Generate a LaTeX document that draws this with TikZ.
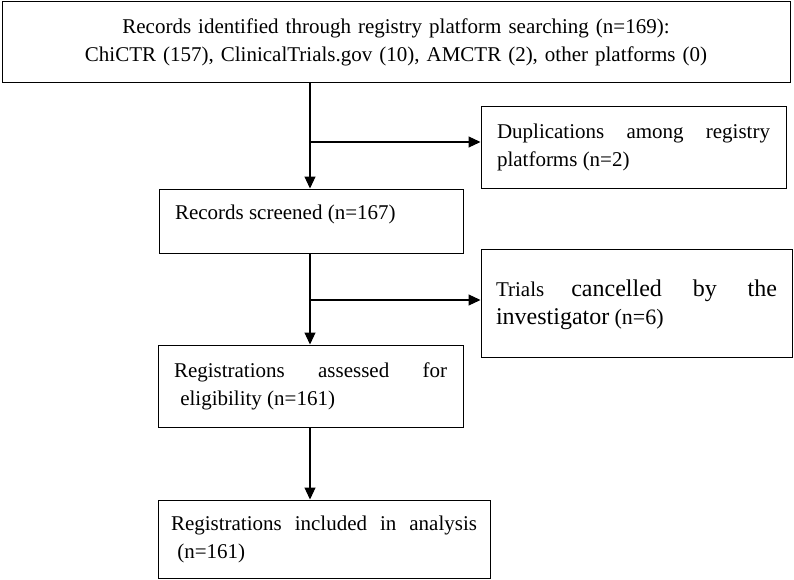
\documentclass[tikz,border=0pt]{standalone}
\usepackage{fontspec}
\setmainfont{Liberation Serif}
\usetikzlibrary{arrows.meta}
\tikzset{
  flowbox/.style={draw, line width=1pt, inner ysep=0pt, align=justify,
    font=\fontsize{21}{28}\selectfont},
  flowline/.style={line width=1.2pt, -{Triangle[length=12pt,width=11pt]}},
}
\newcommand{\bigwd}[1]{{\fontsize{24}{30}\selectfont #1}}
\begin{document}
\begin{tikzpicture}[x=1pt,y=-1pt]
\useasboundingbox (0,0) rectangle (794,580);
\coordinate (trunk) at (310,0);
% main flow
\node[flowbox, align=center, text width=780pt, inner xsep=4pt, minimum height=81pt] (ident) at (396,42.5)
  {Records identified through registry platform searching (n=169):\\ChiCTR (157), ClinicalTrials.gov (10), AMCTR (2), other platforms (0)};
\node[flowbox, text width=272pt, inner xsep=16pt, minimum height=64pt, text depth=17pt] (screen) at (311,221)
  {Records screened (n=167)};
\node[flowbox, text width=273pt, inner xsep=16pt, minimum height=82pt] (assess) at (310.5,386)
  {Registrations assessed for\linebreak\hspace*{0.3em}eligibility (n=161)};
\node[flowbox, text width=306pt, inner xsep=13pt, minimum height=78pt] (incl) at (324,539)
  {Registrations included in analysis\linebreak\hspace*{0.3em}(n=161)};
% excluded
\node[flowbox, text width=273pt, inner xsep=16pt, minimum height=82pt] (dup) at (633.5,147.5)
  {Duplications among registry\linebreak platforms (n=2)};
\node[flowbox, text width=281pt, inner xsep=15pt, minimum height=108pt, text depth=29pt] (cancel) at (636.5,303)
  {Trials \bigwd{cancelled by the}\linebreak\bigwd{investigator} {\fontsize{22}{30}\selectfont(n=6)}};
% arrows
\coordinate (b1) at (310,142);
\coordinate (b2) at (310,300);
\draw[flowline] (ident.south -| trunk) -- (screen.north -| trunk);
\draw[flowline] (b1) -- (b1 -| dup.west);
\draw[flowline] (screen.south -| trunk) -- (assess.north -| trunk);
\draw[flowline] (b2) -- (b2 -| cancel.west);
\draw[flowline] (assess.south -| trunk) -- (incl.north -| trunk);
\end{tikzpicture}
\end{document}
